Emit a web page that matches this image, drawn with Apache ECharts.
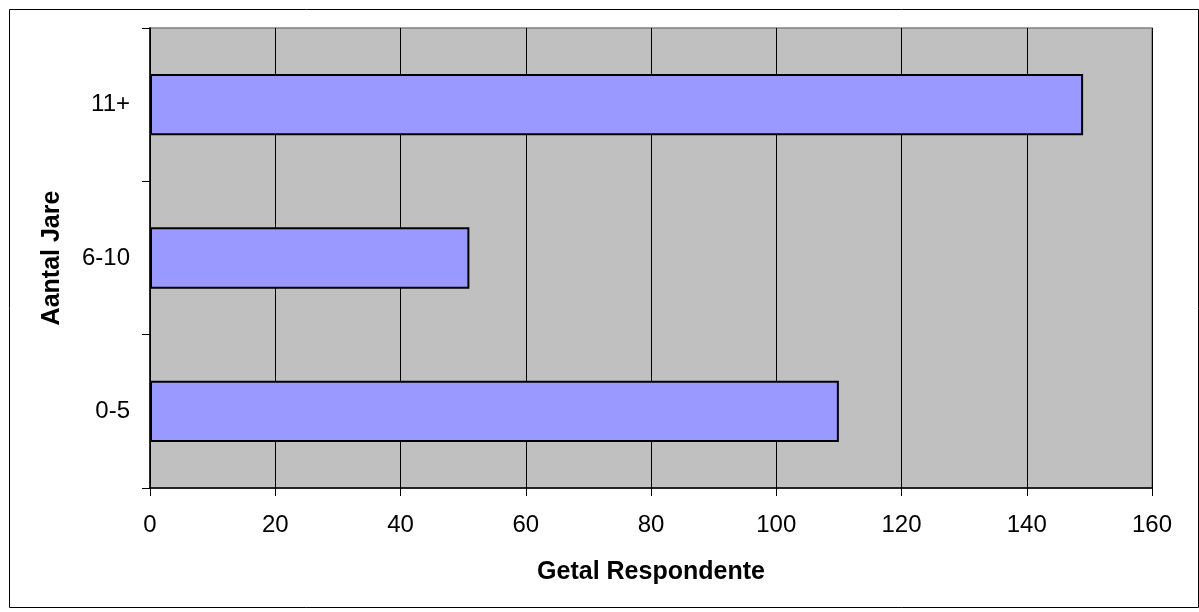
<!DOCTYPE html>
<html><head><meta charset="utf-8">
<script src="https://cdn.jsdelivr.net/npm/echarts@6/dist/echarts.min.js"></script>
<style>html,body{margin:0;padding:0;background:#fff;}#c{width:1199px;height:612px;}</style>
</head><body><div id="c"></div>
<script>
const categories = ['0-5', '6-10', '11+'];
const values = [110, 51, 149];
const xTicks = [0, 20, 40, 60, 80, 100, 120, 140, 160];

const chart = echarts.init(document.getElementById('c'), null, {renderer: 'canvas'});
const font = 'Arial, "Liberation Sans", sans-serif';
chart.setOption({
  animation: false,
  graphic: [{
    type: 'rect', left: 7, top: 7, shape: {width: 1189, height: 598},
    style: {fill: 'none', stroke: '#000', lineWidth: 1}, z: 0
  }],
  grid: {left: 150, right: 47, top: 28, bottom: 124, show: true, backgroundColor: '#c0c0c0', borderColor: '#808080', borderWidth: 1.5},
  xAxis: {
    type: 'value', min: 0, max: 160, interval: 20,
    name: 'Getal Respondente', nameLocation: 'middle', nameGap: 72,
    nameTextStyle: {fontFamily: font, fontSize: 25, fontWeight: 'bold', color: '#000'},
    axisLine: {show: true, lineStyle: {color: '#000', width: 1.5}},
    axisTick: {show: true, inside: false, length: 8, lineStyle: {color: '#000'}},
    axisLabel: {fontFamily: font, fontSize: 24, color: '#000', margin: 25,
      formatter: v => xTicks.includes(v) ? String(v) : ''},
    splitLine: {show: true, lineStyle: {color: '#000', width: 1}}
  },
  yAxis: {
    type: 'category', data: categories,
    name: 'Aantal Jare', nameLocation: 'middle', nameGap: 85, nameRotate: 90,
    nameTextStyle: {fontFamily: font, fontSize: 25, fontWeight: 'bold', color: '#000'},
    axisLine: {show: true, lineStyle: {color: '#000', width: 1.5}},
    axisTick: {show: true, inside: false, length: 8, lineStyle: {color: '#000'}},
    axisLabel: {fontFamily: font, fontSize: 24, color: '#000', margin: 20},
    splitLine: {show: false}
  },
  series: [{
    type: 'bar', data: values, barCategoryGap: '60%',
    itemStyle: {color: '#9999ff', borderColor: '#000', borderWidth: 2}
  }]
});
</script></body></html>
